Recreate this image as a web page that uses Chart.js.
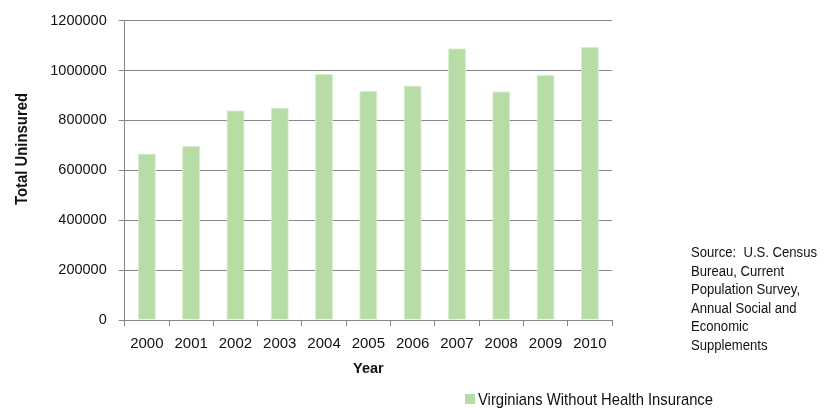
<!DOCTYPE html>
<html>
<head>
<meta charset="utf-8">
<script src="https://cdn.jsdelivr.net/npm/chart.js@4.4.1/dist/chart.umd.min.js"></script>
<style>
  html, body { margin: 0; padding: 0; background: #fff; }
  #wrap { width: 829px; height: 408px; position: relative; }
</style>
</head>
<body>
<div id="wrap"><canvas id="myChart" width="829" height="408"></canvas></div>
<script>
// data
var years = ["2000", "2001", "2002", "2003", "2004", "2005", "2006", "2007", "2008", "2009", "2010"];
var uninsured = [668000, 699000, 841000, 852000, 987000, 919000, 940000, 1090000, 917000, 983000, 1096000];
var seriesName = "Virginians Without Health Insurance";
var yTitle = "Total Uninsured";
var xTitle = "Year";
var sourceLines = ["Source:  U.S. Census", "Bureau, Current", "Population Survey,", "Annual Social and", "Economic", "Supplements"];

var FONT = '"Liberation Sans", Arial, sans-serif';
var gridColor = "#868686";
var barFill = "#b8dca6";

// draw text squeezed to a given width (reference uses a narrow face)
function narrowText(ctx, text, x, y, width) {
  var w = ctx.measureText(text).width;
  ctx.save();
  ctx.translate(x, y);
  ctx.scale(width / w, 1);
  ctx.fillText(text, 0, 0);
  ctx.restore();
}

// draws the rotated y title, the legend and the source note
var extraText = {
  id: "extraText",
  afterDraw: function (chart) {
    var ctx = chart.ctx;
    ctx.save();
    ctx.fillStyle = "#111";

    // y axis title
    ctx.save();
    ctx.translate(22, 149);
    ctx.rotate(-Math.PI / 2);
    ctx.font = "bold 17px " + FONT;
    ctx.textAlign = "left";
    ctx.textBaseline = "middle";
    narrowText(ctx, yTitle, -56, 0, 112);
    ctx.restore();

    // legend
    var ds = chart.data.datasets[0];
    ctx.fillStyle = ds.backgroundColor;
    ctx.fillRect(465, 394, 10, 10);
    ctx.fillStyle = "#111";
    ctx.font = "17px " + FONT;
    ctx.textAlign = "left";
    ctx.textBaseline = "middle";
    narrowText(ctx, ds.label, 478, 400, 235);

    // source note
    ctx.font = "15.5px " + FONT;
    var k = 126 / ctx.measureText(sourceLines[0]).width;
    sourceLines.forEach(function (line, i) {
      narrowText(ctx, line, 691, 253 + i * 18.5, ctx.measureText(line).width * k);
    });
    ctx.restore();
  }
};

var ctx = document.getElementById("myChart").getContext("2d");
var chart = new Chart(ctx, {
  type: "bar",
  data: {
    labels: years,
    datasets: [
      {
        label: seriesName,
        data: uninsured,
        backgroundColor: barFill,
        borderColor: "#dcefd3",
        borderWidth: 1,
        barPercentage: 0.41,
        categoryPercentage: 1.0
      }
    ]
  },
  options: {
    responsive: false,
    animation: false,
    layout: { padding: { top: 14, right: 217, bottom: 0, left: 0 } },
    plugins: {
      legend: { display: false },
      tooltip: { enabled: false }
    },
    scales: {
      x: {
        afterFit: function (scale) { scale.height = 88; },
        grid: {
          display: true,
          drawOnChartArea: false,
          offset: true,
          tickLength: 6,
          color: gridColor
        },
        border: { display: true, color: gridColor },
        ticks: {
          color: "#111",
          font: { family: FONT, size: 15 },
          padding: 9,
          maxRotation: 0
        },
        title: {
          display: true,
          text: xTitle,
          color: "#111",
          font: { family: FONT, size: 14.5, weight: "bold" },
          padding: { top: 0, bottom: 30 }
        }
      },
      y: {
        afterFit: function (scale) { scale.width = 124.7; },
        min: 0,
        max: 1200000,
        grid: {
          color: gridColor,
          tickLength: 6
        },
        border: { display: true, color: gridColor },
        ticks: {
          stepSize: 200000,
          color: "#111",
          padding: 12,
          font: { family: FONT, size: 14.5 },
          callback: function (v) { return v; }
        }
      }
    }
  },
  plugins: [extraText]
});
</script>
</body>
</html>
